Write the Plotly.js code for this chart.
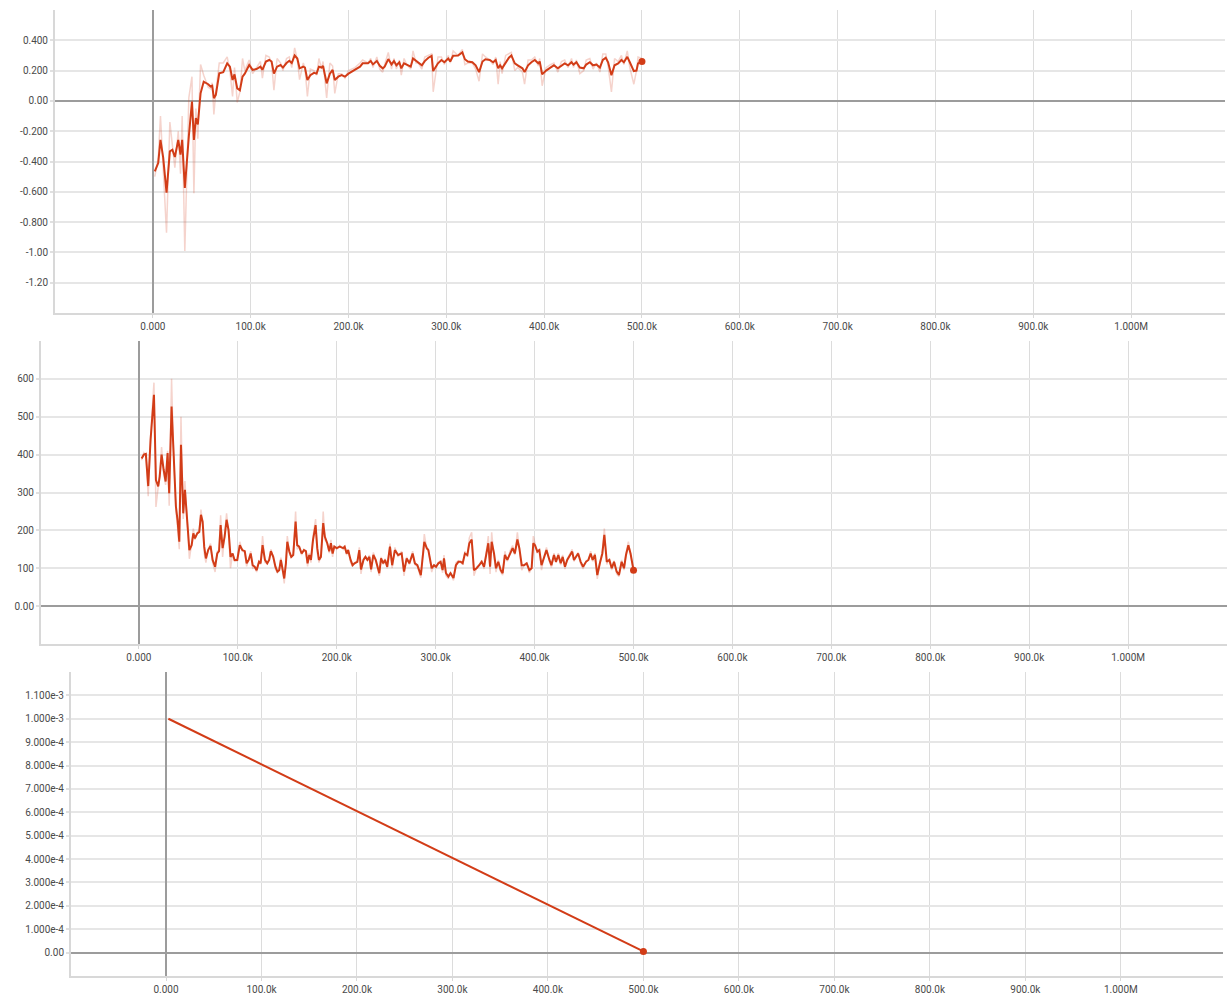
<!DOCTYPE html>
<html>
<head>
<meta charset="utf-8">
<script src="https://cdn.plot.ly/plotly-3.0.1.min.js"></script>
<style>
  html, body { margin: 0; padding: 0; background: #ffffff; }
  #chart { width: 1232px; height: 997px; }
</style>
</head>
<body>
<div id="chart"></div>
<script>
// ---------- Panel 1 (steps in thousands) ----------
const steps1 = [
  2, 5.5, 7.8, 10.6, 14, 17.4, 20, 22.5, 26, 28.3,
  30, 32.7, 36.8, 40, 42, 44, 46, 48.8, 52, 56.6,
  59, 60.7, 62.4, 64.4, 67.9, 72, 76, 78.8, 81.5, 83.5,
  86.3, 89, 91.7, 94, 98.5, 102, 106, 110, 112, 115.6,
  119, 121.4, 123.8, 127, 130.6, 133, 136.7, 139.5, 142, 145,
  147.7, 150, 153.8, 155.5, 158, 161, 164.7, 167.4, 169.8, 172.5,
  174, 177.7, 181, 183.8, 186, 189.6, 193, 196.4, 200, 206.6,
  211.8, 214.5, 220, 222.7, 225, 229, 232, 235, 237, 240.7,
  244, 246.5, 249, 252, 254, 256.8, 259.5, 263.6, 266, 269,
  271.4, 275, 278, 281.7, 285, 286.6, 291.5, 295, 298, 302,
  304, 307, 312, 316.4, 319, 322, 326.6, 330, 333.5, 337,
  340, 344.4, 347.8, 350.5, 353, 355, 357, 360.7, 364, 366.5,
  370, 373, 377.8, 380, 383.6, 387, 390.4, 394, 395.5, 398,
  402, 406.4, 410, 414, 417.7, 421, 424.5, 428, 430, 433,
  436.5, 440.5, 443, 446.7, 450, 453.5, 457, 460, 463, 465.4,
  468.8, 472, 475.7, 479, 481.5, 485, 487.6, 491.7, 494.4, 496,
  500
];
const smooth1 = [
  -0.465, -0.41, -0.257, -0.375, -0.605, -0.333, -0.322, -0.37, -0.257, -0.355,
  -0.257, -0.575, -0.235, -0.004, -0.257, -0.113, -0.155, 0.05, 0.127, 0.11,
  0.095, 0.10, 0.018, 0.04, 0.182, 0.19, 0.248, 0.226, 0.138, 0.175,
  0.083, 0.07, 0.16, 0.18, 0.237, 0.205, 0.21, 0.226, 0.205, 0.26,
  0.27, 0.26, 0.18, 0.226, 0.237, 0.22, 0.25, 0.265, 0.25, 0.30,
  0.28, 0.215, 0.226, 0.22, 0.138, 0.17, 0.185, 0.18, 0.226, 0.22,
  0.23, 0.116, 0.18, 0.205, 0.138, 0.16, 0.17, 0.16, 0.18, 0.204,
  0.226, 0.248, 0.248, 0.263, 0.241, 0.263, 0.232, 0.215, 0.226, 0.276,
  0.241, 0.263, 0.235, 0.255, 0.215, 0.248, 0.241, 0.226, 0.28, 0.263,
  0.255, 0.235, 0.263, 0.285, 0.297, 0.197, 0.248, 0.27, 0.255, 0.28,
  0.26, 0.298, 0.30, 0.32, 0.275, 0.26, 0.255, 0.235, 0.19, 0.26,
  0.275, 0.27, 0.255, 0.27, 0.215, 0.235, 0.215, 0.255, 0.285, 0.30,
  0.248, 0.235, 0.215, 0.19, 0.235, 0.255, 0.27, 0.248, 0.26, 0.175,
  0.20, 0.22, 0.235, 0.215, 0.235, 0.248, 0.235, 0.255, 0.24, 0.255,
  0.22, 0.215, 0.24, 0.255, 0.235, 0.24, 0.22, 0.27, 0.285, 0.255,
  0.17, 0.235, 0.248, 0.27, 0.255, 0.291, 0.255, 0.197, 0.20, 0.248,
  0.26
];
const raw1 = [
  -0.50, -0.38, -0.10, -0.49, -0.87, -0.14, -0.30, -0.44, -0.20, -0.48,
  -0.10, -0.99, 0.02, 0.16, -0.61, -0.05, -0.25, 0.24, 0.17, 0.09,
  0.08, 0.12, -0.09, 0.06, 0.25, 0.25, 0.29, 0.20, 0.03, 0.22,
  -0.01, 0.06, 0.28, 0.20, 0.27, 0.18, 0.22, 0.26, 0.15, 0.30,
  0.29, 0.25, 0.07, 0.28, 0.25, 0.20, 0.28, 0.29, 0.22, 0.35,
  0.27, 0.14, 0.25, 0.22, 0.03, 0.21, 0.20, 0.17, 0.28, 0.21,
  0.26, 0.02, 0.25, 0.23, 0.05, 0.18, 0.18, 0.15, 0.20, 0.22,
  0.25, 0.27, 0.25, 0.28, 0.22, 0.29, 0.21, 0.19, 0.24, 0.32,
  0.21, 0.28, 0.21, 0.27, 0.17, 0.28, 0.24, 0.21, 0.33, 0.25,
  0.25, 0.21, 0.29, 0.30, 0.31, 0.06, 0.29, 0.29, 0.24, 0.30,
  0.25, 0.33, 0.30, 0.34, 0.24, 0.25, 0.25, 0.21, 0.13, 0.31,
  0.29, 0.27, 0.24, 0.29, 0.11, 0.26, 0.18, 0.30, 0.31, 0.32,
  0.20, 0.22, 0.19, 0.11, 0.27, 0.27, 0.29, 0.23, 0.28, 0.10,
  0.22, 0.24, 0.25, 0.19, 0.26, 0.27, 0.22, 0.28, 0.22, 0.27,
  0.18, 0.20, 0.27, 0.28, 0.21, 0.25, 0.19, 0.31, 0.31, 0.23,
  0.06, 0.28, 0.26, 0.30, 0.24, 0.33, 0.22, 0.11, 0.20, 0.29,
  0.28
];

// ---------- Panel 2 ----------
const steps2 = [
  2.7, 5, 7, 9.4, 11.8, 15.2, 17.2, 19.5, 21, 22.9,
  25, 27, 29, 30.6, 33, 34.7, 37.4, 39, 40.8, 42.5,
  44.8, 46.5, 48.9, 51, 53.3, 55, 56.6, 59, 61, 62.7,
  64.4, 66, 67.7, 70, 72.4, 74.5, 77, 79.2, 81, 82.6,
  84.6, 86.6, 88.6, 90.6, 92.6, 94.7, 96.7, 99.4, 102, 104.5,
  107, 108.9, 111, 113, 115, 117, 119, 121.4, 123, 125,
  127.4, 129.7, 131.7, 133.4, 135.8, 138, 140, 141.8, 143.5, 145.2,
  146.9, 148.6, 150, 152, 154, 156, 158.4, 160, 162, 164.5,
  166.8, 168.8, 170.5, 172.2, 173.9, 176, 178.6, 180.3, 182, 184,
  186.3, 188, 190.4, 192.4, 194.1, 195.8, 197.5, 200, 203, 206.5,
  208, 210, 211.5, 214, 216, 218, 220.8, 222.8, 224.5, 227,
  229, 231, 233, 234.7, 237, 239.4, 241.4, 243, 244.8, 247,
  248.8, 251, 253.8, 256, 258.8, 262, 265.6, 268, 270.7, 273.4,
  276.7, 279, 281.5, 285, 288.5, 291, 292.6, 296, 298.3, 300.3,
  302.7, 305, 307, 308.4, 310.4, 312.8, 315, 318, 320.5, 323,
  325.3, 327.3, 329.6, 332, 334, 336.4, 338.7, 341.4, 344, 346.5,
  348.9, 351, 353.2, 355, 356.6, 359, 361, 363.3, 365.7, 367.7,
  370, 372.4, 375, 377.8, 380, 382.6, 384.6, 387, 389.3, 392,
  394.7, 397, 398.7, 400.4, 402.8, 404.8, 407, 409.5, 412, 415,
  417, 419.6, 421.6, 424, 426.4, 428.4, 430.7, 433, 435.8, 438,
  439.8, 441.9, 444, 446.6, 449, 452, 454.4, 456.7, 458.7, 461,
  463.4, 466, 468.5, 470.5, 473, 475.6, 478, 480.3, 483, 485.3,
  488, 490.4, 492.4, 494.8, 497, 500
];
const smooth2 = [
  390, 400, 402, 317, 440, 558, 333, 316, 342, 400,
  360, 329, 404, 298, 527, 439, 263, 228, 170, 426,
  245, 307, 210, 148, 161, 192, 179, 192, 196, 241,
  223, 157, 126, 148, 159, 122, 104, 139, 145, 214,
  153, 183, 228, 201, 130, 139, 122, 122, 161, 148,
  145, 113, 122, 139, 108, 104, 95, 117, 113, 161,
  122, 113, 122, 145, 130, 104, 91, 95, 122, 99,
  73, 113, 170, 145, 130, 135, 223, 161, 157, 139,
  148, 145, 113, 135, 122, 175, 214, 153, 122, 130,
  219, 183, 166, 145, 166, 139, 157, 153, 157, 153,
  157, 139, 148, 122, 108, 113, 117, 148, 97, 122,
  130, 122, 130, 97, 135, 122, 104, 87, 126, 113,
  122, 104, 157, 108, 148, 135, 139, 91, 126, 113,
  139, 113, 108, 82, 170, 153, 148, 100, 108, 104,
  113, 117, 95, 126, 87, 78, 87, 74, 108, 117,
  117, 113, 139, 135, 166, 176, 95, 100, 108, 117,
  104, 130, 166, 104, 170, 139, 100, 117, 95, 87,
  135, 122, 139, 153, 139, 176, 153, 108, 108, 113,
  95, 100, 166, 161, 144, 148, 108, 126, 148, 122,
  108, 135, 117, 135, 113, 130, 104, 122, 135, 144,
  122, 130, 139, 117, 104, 117, 122, 139, 122, 135,
  82, 113, 139, 188, 117, 122, 100, 117, 91, 82,
  117, 100, 135, 161, 139, 95
];
const raw2 = [
  385, 405, 400, 290, 450, 590, 262, 310, 350, 420,
  350, 320, 410, 265, 600, 430, 250, 210, 150, 500,
  230, 330, 200, 125, 165, 205, 175, 195, 200, 255,
  220, 140, 115, 150, 165, 115, 90, 145, 148, 240,
  130, 190, 245, 195, 100, 140, 118, 120, 170, 145,
  142, 105, 125, 145, 100, 102, 90, 122, 110, 185,
  115, 112, 125, 150, 128, 98, 88, 95, 128, 95,
  60, 120, 185, 140, 128, 138, 250, 150, 158, 135,
  150, 145, 105, 140, 115, 185, 230, 140, 115, 132,
  250, 175, 165, 140, 175, 130, 160, 150, 160, 150,
  160, 135, 150, 115, 105, 115, 118, 155, 85, 125,
  132, 120, 135, 90, 142, 120, 100, 80, 130, 110,
  125, 100, 165, 100, 155, 130, 145, 80, 130, 110,
  145, 110, 105, 75, 190, 150, 150, 90, 110, 100,
  115, 120, 88, 135, 80, 72, 88, 68, 115, 120,
  115, 110, 145, 130, 180, 195, 80, 102, 110, 120,
  98, 140, 185, 85, 195, 130, 90, 122, 90, 82,
  145, 118, 145, 160, 135, 195, 150, 95, 108, 115,
  88, 100, 185, 165, 140, 150, 95, 130, 155, 118,
  102, 140, 115, 140, 108, 135, 98, 125, 138, 150,
  118, 132, 142, 112, 98, 120, 122, 145, 118, 140,
  72, 115, 145, 205, 110, 125, 95, 120, 85, 78,
  122, 95, 140, 170, 135, 92
];

// ---------- Panel 3 ----------
const steps3 = [2.5, 100, 200, 300, 400, 500];
const lr3 = [1.0e-3, 8.05e-4, 6.05e-4, 4.05e-4, 2.05e-4, 5e-6];

// ---------- Tick labels ----------
const xTickVals = [0, 100, 200, 300, 400, 500, 600, 700, 800, 900, 1000];
const xTickText = ['0.000', '100.0k', '200.0k', '300.0k', '400.0k', '500.0k', '600.0k', '700.0k', '800.0k', '900.0k', '1.000M'];
const y1TickVals = [0.4, 0.2, 0, -0.2, -0.4, -0.6, -0.8, -1.0, -1.2];
const y1TickText = ['0.400', '0.200', '0.00', '-0.200', '-0.400', '-0.600', '-0.800', '-1.00', '-1.20'];
const y2TickVals = [600, 500, 400, 300, 200, 100, 0];
const y2TickText = ['600', '500', '400', '300', '200', '100', '0.00'];
const y3TickVals = [1.1e-3, 1.0e-3, 9e-4, 8e-4, 7e-4, 6e-4, 5e-4, 4e-4, 3e-4, 2e-4, 1e-4, 0];
const y3TickText = ['1.100e-3', '1.000e-3', '9.000e-4', '8.000e-4', '7.000e-4', '6.000e-4', '5.000e-4', '4.000e-4', '3.000e-4', '2.000e-4', '1.000e-4', '0.00'];

// ---------- Styling ----------
const LINE = '#d23c17';
const RAW = 'rgba(214,70,40,0.24)';

function last(a) { return a[a.length - 1]; }

const traces = [
  { x: steps1, y: raw1, xaxis: 'x', yaxis: 'y', mode: 'lines', line: { color: RAW, width: 1.5 }, hoverinfo: 'skip' },
  { x: steps1, y: smooth1, xaxis: 'x', yaxis: 'y', mode: 'lines', line: { color: LINE, width: 2 } },
  { x: [last(steps1)], y: [last(smooth1)], xaxis: 'x', yaxis: 'y', mode: 'markers', marker: { color: LINE, size: 7 } },

  { x: steps2, y: raw2, xaxis: 'x2', yaxis: 'y2', mode: 'lines', line: { color: RAW, width: 1.5 }, hoverinfo: 'skip' },
  { x: steps2, y: smooth2, xaxis: 'x2', yaxis: 'y2', mode: 'lines', line: { color: LINE, width: 2 } },
  { x: [last(steps2)], y: [last(smooth2)], xaxis: 'x2', yaxis: 'y2', mode: 'markers', marker: { color: LINE, size: 7 } },

  { x: steps3, y: lr3, xaxis: 'x3', yaxis: 'y3', mode: 'lines', line: { color: LINE, width: 2 } },
  { x: [last(steps3)], y: [last(lr3)], xaxis: 'x3', yaxis: 'y3', mode: 'markers', marker: { color: LINE, size: 7 } }
];

function xAxis(domain, range, anchor) {
  return {
    domain: domain, range: range, anchor: anchor,
    tickvals: xTickVals, ticktext: xTickText,
    showgrid: true, gridcolor: '#dcdcdc', gridwidth: 1,
    zeroline: true, zerolinecolor: '#9c9c9c', zerolinewidth: 2,
    showline: true, linecolor: '#d8d8d8', linewidth: 2,
    ticks: 'outside', ticklen: 3, tickcolor: '#d8d8d8', tickwidth: 1,
    fixedrange: true
  };
}
function yAxis(domain, range, anchor, vals, text) {
  return {
    domain: domain, range: range, anchor: anchor,
    tickvals: vals, ticktext: text,
    showgrid: true, gridcolor: '#e6e6e6', gridwidth: 2,
    zeroline: true, zerolinecolor: '#9c9c9c', zerolinewidth: 2,
    showline: true, linecolor: '#d8d8d8', linewidth: 2,
    ticks: 'outside', ticklen: 3, tickcolor: '#e0e0e0', tickwidth: 2,
    fixedrange: true
  };
}

const W = 1232, H = 997;
const layout = {
  width: W, height: H,
  margin: { l: 0, r: 0, t: 0, b: 0 },
  paper_bgcolor: '#ffffff', plot_bgcolor: '#ffffff',
  showlegend: false,
  hovermode: false,
  font: { family: 'Roboto, Arial, sans-serif', size: 10, color: '#4a4a4a' },
  xaxis:  xAxis([55 / W, 1225 / W], [-100, 1096], 'y'),
  yaxis:  yAxis([1 - 313 / H, 1 - 10 / H], [-1.4, 0.6], 'x', y1TickVals, y1TickText),
  xaxis2: xAxis([41 / W, 1227 / W], [-99, 1100], 'y2'),
  yaxis2: yAxis([1 - 644 / H, 1 - 341 / H], [-100, 700], 'x2', y2TickVals, y2TickText),
  xaxis3: xAxis([71 / W, 1223 / W], [-99.5, 1107], 'y3'),
  yaxis3: yAxis([1 - 976 / H, 1 - 672 / H], [-1e-4, 1.2e-3], 'x3', y3TickVals, y3TickText)
};

Plotly.newPlot('chart', traces, layout, { displayModeBar: false, staticPlot: true });
</script>
</body>
</html>
